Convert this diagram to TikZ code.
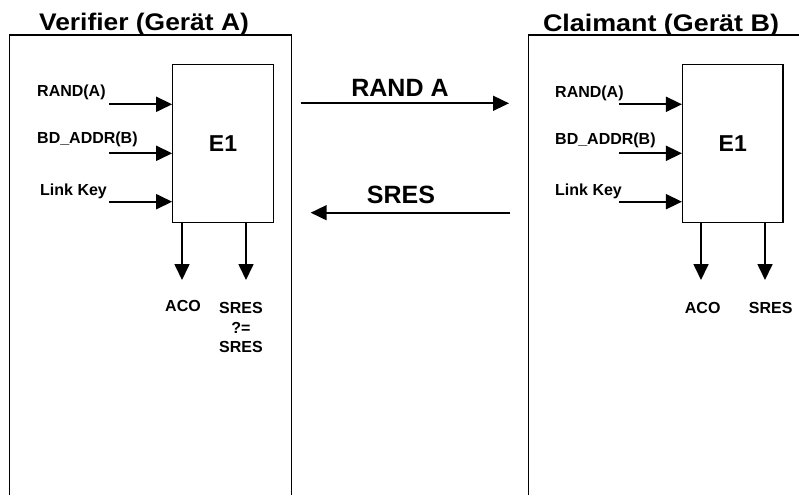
\documentclass[tikz,border=0pt]{standalone}
\usepackage{fontspec}
\usepackage{graphicx}
\setmainfont{Liberation Sans}
\usetikzlibrary{arrows.meta}
\begin{document}
\begin{tikzpicture}[x=1pt,y=-1pt,
  frame/.style={line width=1.3pt},
  e1box/.style={draw,line width=1.2pt,minimum width=100.5pt,minimum height=158pt,inner sep=0pt,
     font=\bfseries\fontsize{23}{26}\selectfont},
  arr/.style={line width=1.7pt,-{Triangle[length=16pt,width=15pt]}},
  head/.style={anchor=base,inner sep=0pt,font=\bfseries\fontsize{24}{28}\selectfont},
  mid/.style={anchor=base,inner sep=0pt,font=\bfseries\fontsize{25}{28}\selectfont},
  inlbl/.style={anchor=base west,inner sep=0pt,font=\bfseries\fontsize{16}{19}\selectfont},
  outlbl/.style={anchor=base,inner sep=0pt,align=center,font=\bfseries\fontsize{16}{19.7}\selectfont}]
\useasboundingbox (0,0) rectangle (799,495);
% device frames
\draw[frame] (9.5,495) -- (9.5,35) -- (291.7,35) -- (291.7,495);
\draw[frame] (528.3,495) -- (528.3,35) -- (800,35);
\node[head] (hA) at (144,30.5) {\scalebox{1.1}[1]{Verifier (Gerät A)}};
\node[head] (hB) at (661,31) {\scalebox{1.12}[1]{Claimant (Gerät B)}};
% E1 boxes
\node[e1box] (e1a) at (223,143.3) {E1};
\node[e1box] (e1b) at (732.8,143.3) {E1};
% left inputs
\node[inlbl] (ra) at (37,96.7) {RAND(A)};
\node[inlbl] (ba) at (37,143.5) {BD\_ADDR(B)};
\node[inlbl] (la) at (40,195) {Link Key};
\coordinate (ta1) at (109,104.3);
\coordinate (ta2) at (109,153.3);
\coordinate (ta3) at (109,201.7);
\draw[arr] (ta1) -- (ta1 -| e1a.west);
\draw[arr] (ta2) -- (ta2 -| e1a.west);
\draw[arr] (ta3) -- (ta3 -| e1a.west);
% right inputs
\node[inlbl] (rb) at (555,97.3) {RAND(A)};
\node[inlbl] (bb) at (555,144) {BD\_ADDR(B)};
\node[inlbl] (lb) at (555,195) {Link Key};
\coordinate (tb1) at (619,104.3);
\coordinate (tb2) at (619,153.3);
\coordinate (tb3) at (619,201.7);
\draw[arr] (tb1) -- (tb1 -| e1b.west);
\draw[arr] (tb2) -- (tb2 -| e1b.west);
\draw[arr] (tb3) -- (tb3 -| e1b.west);
% left outputs
\node[outlbl] (acoa) at (183,311.7) {ACO};
\node[outlbl] (sresa) at (241,352.7) {SRES\\?=\\SRES};
\coordinate (oa1) at (182,280);
\coordinate (oa2) at (246,280);
\draw[arr] (oa1 |- e1a.south) -- (oa1);
\draw[arr] (oa2 |- e1a.south) -- (oa2);
% right outputs
\node[outlbl] (acob) at (702.7,313.3) {ACO};
\node[outlbl] (sresb) at (770.7,313.3) {SRES};
\coordinate (ob1) at (701,280);
\coordinate (ob2) at (765,280);
\draw[arr] (ob1 |- e1b.south) -- (ob1);
\draw[arr] (ob2 |- e1b.south) -- (ob2);
% messages
\node[mid] (mrand) at (400,96.7) {RAND A};
\node[mid] (msres) at (401,203.3) {SRES};
\coordinate (m1s) at (300.7,103.3);
\coordinate (m1e) at (509,103.3);
\coordinate (m2s) at (510,212.7);
\coordinate (m2e) at (310.7,212.7);
\draw[arr] (m1s) -- (m1e);
\draw[arr] (m2s) -- (m2e);
\end{tikzpicture}
\end{document}
